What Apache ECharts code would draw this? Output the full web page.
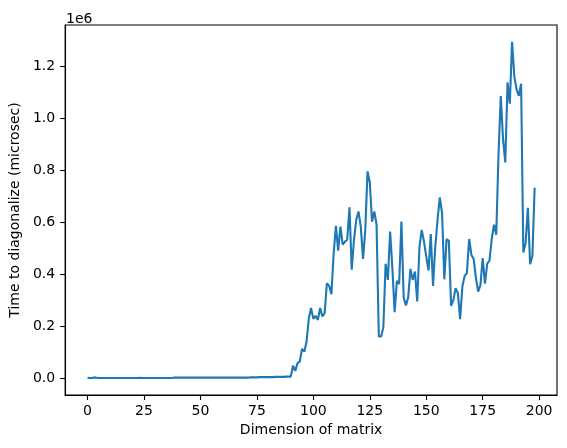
<!DOCTYPE html>
<html>
<head>
<meta charset="utf-8">
<script src="https://cdn.jsdelivr.net/npm/echarts@6/dist/echarts.min.js"></script>
<style>html,body{margin:0;padding:0;background:#fff}#c{width:567px;height:448px}</style>
</head>
<body>
<div id="c"></div>
<script>
// Time to diagonalize, in units of 1e6 microseconds, for matrix dimension 0..198
const timeE6 = [
  0.002, 0.001, 0.001, 0.003, 0.002, 0.001, 0.001, 0.001, 0.001, 0.001,
  0.001, 0.001, 0.001, 0.001, 0.001, 0.001, 0.001, 0.001, 0.001, 0.001,
  0.001, 0.001, 0.001, 0.002, 0.001, 0.001, 0.001, 0.001, 0.001, 0.001,
  0.001, 0.001, 0.001, 0.001, 0.001, 0.001, 0.001, 0.001, 0.002, 0.002,
  0.002, 0.002, 0.002, 0.002, 0.002, 0.002, 0.002, 0.002, 0.002, 0.002,
  0.002, 0.002, 0.002, 0.002, 0.002, 0.002, 0.002, 0.002, 0.002, 0.002,
  0.002, 0.002, 0.002, 0.002, 0.002, 0.002, 0.002, 0.002, 0.002, 0.002,
  0.002, 0.002, 0.003, 0.003, 0.003, 0.003, 0.004, 0.004, 0.004, 0.004,
  0.004, 0.004, 0.004, 0.005, 0.005, 0.005, 0.005, 0.005, 0.006, 0.006,
  0.006, 0.048, 0.028, 0.058, 0.064, 0.113, 0.102, 0.141, 0.230, 0.270,
  0.228, 0.240, 0.224, 0.270, 0.237, 0.250, 0.365, 0.355, 0.323, 0.480,
  0.586, 0.490, 0.583, 0.513, 0.525, 0.532, 0.657, 0.417, 0.532, 0.609,
  0.641, 0.583, 0.458, 0.570, 0.795, 0.752, 0.602, 0.641, 0.590, 0.160,
  0.160, 0.195, 0.440, 0.378, 0.564, 0.423, 0.254, 0.374, 0.362, 0.602,
  0.310, 0.280, 0.310, 0.420, 0.378, 0.410, 0.295, 0.506, 0.570, 0.525,
  0.468, 0.414, 0.554, 0.355, 0.506, 0.609, 0.695, 0.635, 0.380, 0.535,
  0.528, 0.278, 0.300, 0.346, 0.327, 0.227, 0.352, 0.393, 0.404, 0.535,
  0.474, 0.458, 0.385, 0.333, 0.359, 0.462, 0.363, 0.440, 0.452, 0.535,
  0.590, 0.551, 0.860, 1.085, 0.920, 0.829, 1.137, 1.055, 1.293, 1.160,
  1.110, 1.085, 1.132, 0.483, 0.520, 0.655, 0.438, 0.470, 0.732
];
const xTicks = [0, 25, 50, 75, 100, 125, 150, 175, 200];
const yTicks = [0, 0.2, 0.4, 0.6, 0.8, 1.0, 1.2];

const dims = timeE6.map((_, i) => i);
const seriesData = dims.map((d, i) => [d, timeE6[i]]);

const font = 'DejaVu Sans';
const chart = echarts.init(document.getElementById('c'), null, {renderer: 'canvas'});
chart.setOption({
  animation: false,
  backgroundColor: '#fff',
  textStyle: {fontFamily: font},
  title: {
    text: '1e6', left: 61, top: 7,
    textStyle: {fontFamily: font, fontSize: 14, fontWeight: 'normal', color: '#000'}
  },
  grid: {
    left: 62, right: 10, top: 25, bottom: 53,
    show: true, borderColor: '#000', borderWidth: 1.1, backgroundColor: 'transparent'
  },
  xAxis: {
    type: 'value', min: -9.9, max: 207.9,
    name: 'Dimension of matrix', nameLocation: 'middle', nameGap: 28,
    nameTextStyle: {fontFamily: font, fontSize: 14, color: '#000'},
    axisLine: {show: true, onZero: false, lineStyle: {color: '#000', width: 1.1}},
    axisTick: {show: true, length: 5, customValues: xTicks, lineStyle: {color: '#000', width: 1.1}},
    axisLabel: {customValues: xTicks, margin: 9, fontFamily: font, fontSize: 14, color: '#000'},
    splitLine: {show: false}
  },
  yAxis: {
    type: 'value', min: -0.0646, max: 1.3576,
    name: 'Time to diagonalize (microsec)', nameLocation: 'middle', nameGap: 38,
    nameTextStyle: {fontFamily: font, fontSize: 14, color: '#000'},
    axisLine: {show: true, onZero: false, lineStyle: {color: '#000', width: 1.1}},
    axisTick: {show: true, length: 5, customValues: yTicks, lineStyle: {color: '#000', width: 1.1}},
    axisLabel: {customValues: yTicks, margin: 10, fontFamily: font, fontSize: 14, color: '#000',
      formatter: v => v.toFixed(1)},
    splitLine: {show: false}
  },
  series: [{
    type: 'line', data: seriesData, showSymbol: false, symbol: 'none',
    lineStyle: {color: '#1f77b4', width: 2.1}, itemStyle: {color: '#1f77b4'}
  }]
});
</script>
</body>
</html>
